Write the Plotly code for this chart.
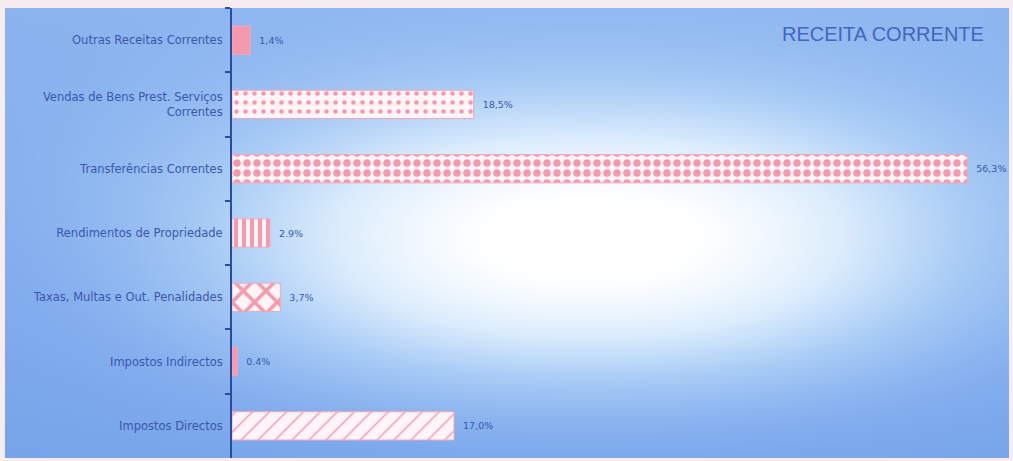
import numpy as np
import plotly.graph_objects as go

# ---- data (top to bottom) ----
categories = [
    "Outras Receitas Correntes",
    "Vendas de Bens Prest. Serviços<br>Correntes",
    "Transferências Correntes",
    "Rendimentos de Propriedade",
    "Taxas, Multas e Out. Penalidades",
    "Impostos Indirectos",
    "Impostos Directos",
]
values = [1.4, 18.5, 56.3, 2.9, 3.7, 0.4, 17.0]
value_labels = ["1,4%", "18,5%", "56,3%", "2.9%", "3,7%", "0.4%", "17,0%"]
title_text = "RECEITA CORRENTE"

# ---- styles ----
pattern_shapes = ["", ".", ".", "|", "x", "", "/"]
pattern_sizes = [8, 9, 10, 8, 16, 8, 12]
pattern_solidity = [0.3, 0.2, 0.45, 0.5, 0.4, 0.3, 0.12]
PINK = "#f49aae"
LINE = "#2b4c9c"
TEXT = "#3a58aa"

W, H = 1013, 461
bx0, bx1, by0, by1 = 5, 1009, 8, 458

# ---- background gradient (decoration) ----
gx = np.linspace(bx0, bx1, 100)
gy = np.linspace(by0, by1, 60)
X, Y = np.meshgrid(gx, gy)
glow = np.exp(-(((X - 590) / 370) ** 2) ** 1.1 - (((Y - 245) / 145) ** 2) ** 1.1)
base = 0.30 - 0.2 * (Y - by0) / (by1 - by0)
Z = np.clip(base + 0.85 * glow, 0, 1)

fig = go.Figure()
fig.add_trace(go.Heatmap(
    x=gx, y=gy, z=Z, zmin=0, zmax=1, zsmooth="best", showscale=False,
    hoverinfo="skip",
    colorscale=[[0, "#6d9ce6"], [0.25, "#84aeee"], [0.5, "#a9ccf5"], [0.75, "#dbecfc"], [1, "#ffffff"]],
    xaxis="x", yaxis="y",
))

fig.add_trace(go.Bar(
    y=categories, x=values, orientation="h",
    text=["\u00a0\u00a0" + t for t in value_labels], textposition="outside",
    textfont=dict(family="DejaVu Sans", size=9.5, color=TEXT),
    cliponaxis=False, width=0.44,
    marker=dict(
        color=PINK,
        line=dict(color="#f3a6b8", width=1),
        pattern=dict(shape=pattern_shapes, size=pattern_sizes, solidity=pattern_solidity,
                     fgcolor=PINK, bgcolor="#fff4f7", fillmode="replace"),
    ),
    xaxis="x2", yaxis="y2", hoverinfo="skip",
))

fig.update_layout(
    width=W, height=H,
    margin=dict(l=0, r=0, t=0, b=0),
    paper_bgcolor="#f7edf1",
    plot_bgcolor="rgba(0,0,0,0)",
    showlegend=False,
    xaxis=dict(domain=[bx0 / W, bx1 / W], range=[bx0, bx1], visible=False, fixedrange=True),
    yaxis=dict(domain=[1 - by1 / H, 1 - by0 / H], range=[by1, by0], visible=False, fixedrange=True),
    xaxis2=dict(domain=[232 / W, bx1 / W], range=[0, 59.5], visible=False, anchor="y2"),
    yaxis2=dict(domain=[1 - by1 / H, 1 - by0 / H], anchor="x2", autorange="reversed",
                type="category",
                showline=True, linecolor=LINE, linewidth=2,
                ticks="outside", ticklen=5, tickcolor=LINE, tickwidth=2,
                tickson="boundaries", ticklabelstandoff=5,
                tickfont=dict(family="DejaVu Sans", size=11.5, color=TEXT),
                showgrid=False, zeroline=False),
    annotations=[dict(
        text=title_text, x=883 / W, y=1 - 34 / H, xref="paper", yref="paper",
        showarrow=False, xanchor="center", yanchor="middle",
        font=dict(family="Liberation Sans", size=20, color="#4466bb"),
    )],
)

fig.write_html("out.html", config={"displayModeBar": False},
               post_script="document.body.style.margin='0px';document.body.style.overflow='hidden';")
